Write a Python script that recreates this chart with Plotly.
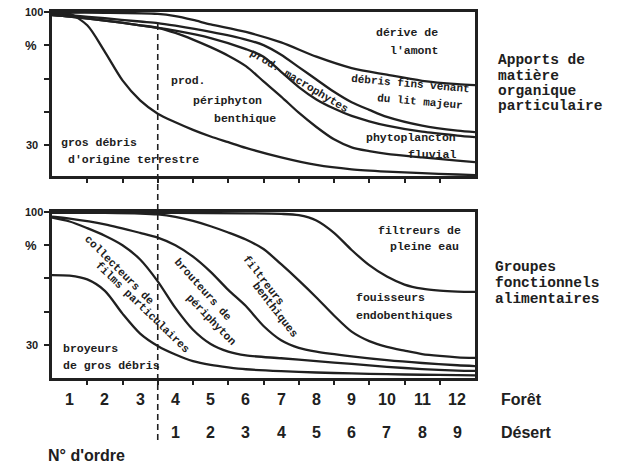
import plotly.graph_objects as go

W, H = 634, 465


def fx(p):
    return p / W


def fy(p):
    return 1 - p / H


# ---------------- data ----------------
forest_orders = [str(i) for i in range(1, 13)]
forest_pos = list(range(1, 13))
desert_orders = [str(i) for i in range(1, 10)]
desert_pos = list(range(4, 13))
boundary_pos = 3.5

# top panel : apports de matière organique particulaire (% of input)
derive_x = [0.5, 2, 3.5, 4, 4.5, 5, 6, 7, 8, 9, 10, 11, 12, 12.5]
derive_y = [99.6, 99.6, 99, 97.8, 95.8, 93.5, 89.5, 84, 76.5, 70.5, 67, 63.8, 62, 61.5]

litmajeur_x = [0.5, 1, 2, 3, 3.5, 4, 5, 6, 6.5, 7, 7.5, 8, 8.5, 9, 9.5, 10, 11, 12, 12.5]
litmajeur_y = [98.9, 98.3, 96.7, 95, 94.2, 92.8, 89.5, 85.5, 82.6, 77.5, 71, 64.5, 58, 52.5, 48.5, 44.8, 40.2, 37.6, 36.8]

macro_x = [0.5, 1, 2, 3, 3.5, 4, 5, 6, 6.5, 7, 7.5, 8, 8.5, 9, 9.5, 10, 11, 12, 12.5]
macro_y = [98.4, 97.6, 95.5, 93, 91.7, 90.2, 86.3, 80.5, 76.5, 68.5, 60.5, 54, 49.2, 45.3, 42.5, 40.2, 37, 35, 34.2]

phyto_x = [0.5, 1, 2, 3, 3.5, 4, 4.5, 5, 5.5, 6, 6.5, 7, 7.5, 8, 8.5, 9, 9.5, 10, 11, 12, 12.5]
phyto_y = [98.4, 97.6, 95.5, 93, 91.7, 89, 85.5, 81.5, 77, 71.5, 63.5, 55.5, 47, 39.5, 33, 28.8, 26.8, 25.3, 23.5, 21.8, 21]

periph_x = [0.5, 1, 1.5, 2, 2.5, 3, 3.5, 4, 4.5, 5, 5.5, 6, 7, 8, 9, 10, 11, 12, 12.5]
periph_y = [99.6, 99, 93, 79, 64, 53.5, 46.5, 42, 38, 34.5, 31.5, 28.5, 23.5, 19.5, 17.2, 16, 15.2, 14.5, 14.2]

# bottom panel : groupes fonctionnels alimentaires (%)
pleine_x = [0.5, 2, 4, 6, 7, 7.5, 8, 8.5, 9, 9.5, 10, 10.5, 11, 11.5, 12, 12.5]
pleine_y = [99.6, 99.6, 99.5, 99.3, 99, 98.3, 95.5, 89, 80, 72, 66, 61.8, 59.6, 58.6, 58.1, 57.9]

fouis_x = [0.5, 2, 3, 3.5, 4, 4.5, 5, 5.5, 6, 6.5, 7, 7.5, 8, 8.5, 9, 9.5, 10, 10.5, 11, 11.5, 12, 12.5]
fouis_y = [99.6, 99.5, 99.2, 98.7, 97.4, 95.3, 92.5, 89.2, 85.5, 80.5, 72.5, 64, 55, 45.5, 37, 32, 29, 27, 25.2, 24.2, 23.5, 23.2]

filtb_x = [0.5, 1, 2, 3, 3.5, 4, 4.5, 5, 5.5, 6, 6.5, 7, 7.5, 8, 9, 10, 11, 12, 12.5]
filtb_y = [97.5, 96.5, 93.5, 89, 86.5, 82.5, 76.5, 68.5, 59, 50.5, 40, 32.5, 28.5, 26.5, 24, 22, 20.5, 19.3, 18.9]

brout_x = [0.5, 1, 1.5, 2, 2.5, 3, 3.5, 4, 4.5, 5, 5.5, 6, 7, 8, 9, 10, 11, 12, 12.5]
brout_y = [97, 95, 91.5, 87.5, 82.5, 75, 63.5, 49.5, 38, 30.5, 26.5, 24.5, 23, 21.5, 20, 18.5, 17.3, 16.5, 16.3]

collec_x = [0.5, 1, 1.5, 2, 2.5, 3, 3.5, 4, 4.5, 5, 5.5, 6, 7, 8, 9, 10, 11, 12, 12.5]
collec_y = [66.8, 66.5, 64.5, 58.5, 46.5, 36, 29.5, 25, 21.5, 19.5, 18.2, 17.2, 16.2, 15.5, 15, 14.6, 14.3, 14.1, 14]

y_tickvals = [30, 47.5, 65, 82.5, 100]
x_tickvals = [1.5, 2.5, 3.5, 4.5, 5.5, 6.5, 7.5, 8.5, 9.5, 10.5, 11.5]

# ---------------- figure ----------------
INK = "#202020"
fig = go.Figure()

top_curves = [(derive_x, derive_y), (litmajeur_x, litmajeur_y), (macro_x, macro_y),
              (phyto_x, phyto_y), (periph_x, periph_y)]
bot_curves = [(pleine_x, pleine_y), (fouis_x, fouis_y), (filtb_x, filtb_y),
              (brout_x, brout_y), (collec_x, collec_y)]

for xs, ys in top_curves:
    fig.add_trace(go.Scatter(x=xs, y=ys, mode="lines", xaxis="x", yaxis="y",
                             line=dict(color=INK, width=2.3, shape="spline", smoothing=0.8),
                             showlegend=False, hoverinfo="skip"))
for xs, ys in bot_curves:
    fig.add_trace(go.Scatter(x=xs, y=ys, mode="lines", xaxis="x2", yaxis="y2",
                             line=dict(color=INK, width=2.3, shape="spline", smoothing=0.8),
                             showlegend=False, hoverinfo="skip"))

xdom = [fx(52), fx(475)]
axis_common = dict(showline=True, mirror=True, linewidth=2.5, linecolor=INK,
                   showgrid=False, zeroline=False, ticks="outside",
                   tickcolor=INK, tickwidth=2, showticklabels=False)

fig.update_layout(
    width=W, height=H,
    margin=dict(l=0, r=0, t=0, b=0),
    paper_bgcolor="white", plot_bgcolor="white",
    xaxis=dict(domain=xdom, range=[0.5, 12.5], anchor="y", tickvals=x_tickvals,
               ticklen=4, **axis_common),
    yaxis=dict(domain=[fy(176), fy(12)], range=[13.7, 100], anchor="x",
               tickvals=y_tickvals, ticklen=5, **axis_common),
    xaxis2=dict(domain=xdom, range=[0.5, 12.5], anchor="y2", tickvals=x_tickvals,
                ticklen=4, **axis_common),
    yaxis2=dict(domain=[fy(378), fy(212)], range=[12.6, 100], anchor="x2",
                tickvals=y_tickvals, ticklen=5, **axis_common),
)

# dashed boundary line forest / desert
fig.add_shape(type="line", xref="x", yref="paper", x0=boundary_pos, x1=boundary_pos,
              y0=fy(440), y1=fy(22), line=dict(color=INK, width=1.6, dash="6px,4px"))

ann = []
SANS = "Liberation Sans"
MONO = "Liberation Mono"


def txt(text, x, y, size, family=MONO, xanchor="left", angle=0, bold=False, xref="paper"):
    t = f"<b>{text}</b>" if bold else text
    ann.append(dict(text=t, x=x, y=y, xref=xref, yref="paper", xanchor=xanchor,
                    yanchor="middle", showarrow=False, textangle=angle,
                    font=dict(family=family, size=size, color=INK)))


# y-axis labels
for top in (12, 212):
    txt("100", fx(45), fy(top), 11, SANS, "right", bold=True)
    txt("%", fx(31), fy(top + 33), 13, SANS, "center", bold=True)
    txt("30", fx(40), fy(top + 133), 11, SANS, "right", bold=True)

# x-axis labels
for lab, p in zip(forest_orders, forest_pos):
    txt(lab, p, fy(399), 16, SANS, "center", bold=True, xref="x2")
for lab, p in zip(desert_orders, desert_pos):
    txt(lab, p, fy(432), 16, SANS, "center", bold=True, xref="x2")
txt("Forêt", fx(499), fy(399), 16, SANS, bold=True)
txt("Désert", fx(499), fy(432), 16, SANS, bold=True)
txt("N° d'ordre", fx(46), fy(455), 16, SANS, bold=True)

# right-hand titles
for i, line in enumerate(["Apports de", "matière", "organique", "particulaire"]):
    txt(line, fx(496), fy(60 + 15.5 * i), 14.5, bold=True)
for i, line in enumerate(["Groupes", "fonctionnels", "alimentaires"]):
    txt(line, fx(493), fy(267 + 16 * i), 14.5, bold=True)

# top panel labels
txt("dérive de", fx(440), fy(33), 11.5, xanchor="right", bold=True)
txt("l'amont", fx(440), fy(50), 11.5, xanchor="right", bold=True)
txt("débris fins venant", fx(410), fy(84), 11, xanchor="center", angle=5, bold=True)
txt("du lit majeur", fx(420), fy(102), 11, xanchor="center", angle=5, bold=True)
txt("phytoplancton", fx(458), fy(137), 11.5, xanchor="right", bold=True)
txt("fluvial", fx(458), fy(155), 11.5, xanchor="right", bold=True)
txt("prod.", fx(169), fy(80), 11.5, bold=True)
txt("périphyton", fx(191), fy(100), 11.5, bold=True)
txt("benthique", fx(212), fy(118), 11.5, bold=True)
txt("prod. macrophytes", fx(299), fy(81), 11, xanchor="center", angle=31, bold=True)
txt("gros débris", fx(59), fy(142), 11.5, bold=True)
txt("d'origine terrestre", fx(66), fy(159), 11.5, bold=True)

# bottom panel labels
txt("filtreurs de", fx(463), fy(230), 11.5, xanchor="right", bold=True)
txt("pleine eau", fx(461), fy(246), 11.5, xanchor="right", bold=True)
txt("fouisseurs", fx(354), fy(297), 11.5, bold=True)
txt("endobenthiques", fx(354), fy(315), 11.5, bold=True)
txt("broyeurs", fx(61), fy(348), 11.5, bold=True)
txt("de gros débris", fx(61), fy(365), 11.5, bold=True)
txt("collecteurs de", fx(119), fy(270), 11, xanchor="center", angle=45, bold=True)
txt("films particulaires", fx(142), fy(307), 11, xanchor="center", angle=44, bold=True)
txt("brouteurs de", fx(203), fy(290), 11, xanchor="center", angle=48, bold=True)
txt("périphyton", fx(211), fy(320), 11, xanchor="center", angle=46, bold=True)
txt("filtreurs", fx(263), fy(280), 11, xanchor="center", angle=52, bold=True)
txt("benthiques", fx(275), fy(310), 11, xanchor="center", angle=52, bold=True)

fig.update_layout(annotations=ann)
fig.write_html("out.html", config={"displayModeBar": False},
               post_script="document.body.style.margin='0';document.body.style.overflow='hidden';")
